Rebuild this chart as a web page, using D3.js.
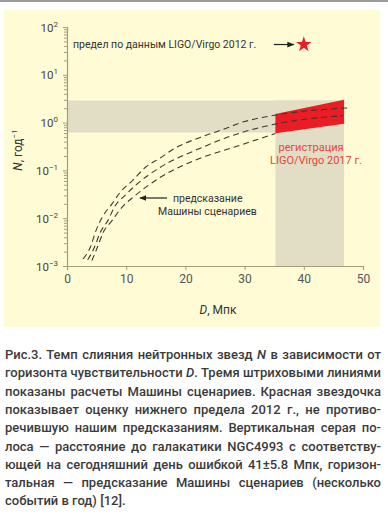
<!DOCTYPE html>
<html>
<head>
<meta charset="utf-8">
<script src="https://cdn.jsdelivr.net/npm/d3@7"></script>
<style>
  body { margin: 0; background: #fff; width: 388px; height: 522px; overflow: hidden; position: relative; }
  svg { position: absolute; left: 0; top: 0; }
  .cap { position: absolute; left: 5px; width: 376px; font-family: Roboto, sans-serif; font-size: 13px; font-weight: 500;
         color: #3b3b3b; text-align: justify; text-align-last: justify; white-space: nowrap; line-height: 18px; }
  .cap.last { text-align-last: left; }
</style>
</head>
<body>
<script>
// data
var xTicks = [0, 10, 20, 30, 40, 50];
var yTicks = [1e-3, 1e-2, 1e-1, 1, 10, 100];
var yExp = ['-3', '-2', '-1', '0', '1', '2'];
// three dashed model curves [D, N]
var curveUpper = [[2.7,0.0014],[3.9,0.0024],[4.9,0.0055],[5.9,0.0102],[7.6,0.020],[9.0,0.035],[11.1,0.062],[13.2,0.115],[15.7,0.18],[18.2,0.29],[22.5,0.49],[25.8,0.68],[30,1.05],[34.8,1.41],[47.8,2.04]];
var curveMiddle = [[3.5,0.00135],[4.6,0.0024],[5.6,0.005],[6.9,0.0089],[8.1,0.018],[9.8,0.030],[11.5,0.048],[15.7,0.115],[22.5,0.29],[28,0.54],[34.8,0.91],[46.6,1.4]];
var curveLower = [[4.2,0.0013],[5.1,0.0024],[6.1,0.005],[7.6,0.0089],[9.3,0.017],[11.1,0.027],[15.7,0.071],[22.5,0.18],[28,0.3],[35.2,0.59]];
// grey bands
var hBand = [0.62, 2.9];      // N range
var vBand = [35.2, 46.8];     // D range (41 +- 5.8)
// red LIGO/Virgo 2017 area
var regD = [35.2, 46.8];
var regTop = [1.52, 3.0];
var regBottom = [0.6, 0.95];
var star = [40, 43];

var captionLines = [
  ['Рис.3. Темп слияния нейтронных звезд ', 'N', ' в зависимости от'],
  ['горизонта чувствительности ', 'D', '. Тремя штриховыми линиями'],
  ['показаны расчеты Машины сценариев. Красная звездочка'],
  ['показывает оценку нижнего предела 2012 г., не противо-'],
  ['речившую нашим предсказаниям. Вертикальная серая по-'],
  ['лоса — расстояние до галакатики NGC4993 с соответству-'],
  ['ющей на сегодняшний день ошибкой 41±5.8 Мпк, горизон-'],
  ['тальная — предсказание Машины сценариев (несколько'],
  ['событий в год) [12].']
];

var W = 388, H = 522;
var axisColor = '#a39e78', bandColor = '#e2dec6', red = '#ea1c24';

var svg = d3.select('body').append('svg').attr('width', W).attr('height', H);

// page frame
svg.append('rect').attr('x', 0).attr('y', 0).attr('width', W).attr('height', 2).attr('fill', '#9a9a9a');
svg.append('rect').attr('x', 4).attr('y', 10).attr('width', 376).attr('height', 317).attr('fill', '#fffbd4');

var x = d3.scaleLinear().domain([0, 50]).range([67, 363]);
var y = d3.scaleLog().domain([1e-3, 1e2]).range([266, 27]);

// bands
svg.append('rect')
  .attr('x', x(0) + 1).attr('width', x(vBand[1]) - x(0) - 1)
  .attr('y', y(hBand[1])).attr('height', y(hBand[0]) - y(hBand[1]))
  .attr('fill', bandColor);
svg.append('rect')
  .attr('x', x(vBand[0])).attr('width', x(vBand[1]) - x(vBand[0]))
  .attr('y', y(hBand[1])).attr('height', y(1e-3) - y(hBand[1]))
  .attr('fill', bandColor);

// red registration area
var regPoly = [[regD[0], regTop[0]], [regD[1], regTop[1]], [regD[1], regBottom[1]], [regD[0], regBottom[0]]];
svg.append('polygon')
  .attr('points', regPoly.map(function(p) { return x(p[0]) + ',' + y(p[1]); }).join(' '))
  .attr('fill', red);

// dashed curves
var line = d3.line().x(function(d) { return x(d[0]); }).y(function(d) { return y(d[1]); }).curve(d3.curveMonotoneX);
[curveUpper, curveMiddle, curveLower].forEach(function(c) {
  svg.append('path').attr('d', line(c))
    .attr('fill', 'none').attr('stroke', '#3a3a32').attr('stroke-width', 1.1)
    .attr('stroke-dasharray', '6,4');
});

// axes
var xAxis = svg.append('g').attr('transform', 'translate(0,' + y(1e-3) + ')')
  .call(d3.axisBottom(x).tickValues(xTicks).tickSize(4).tickPadding(4).tickFormat(d3.format('d')));
var minor = [];
yTicks.slice(0, -1).forEach(function(t) { for (var k = 2; k < 10; k++) minor.push(t * k); });
var yMinor = svg.append('g').attr('transform', 'translate(' + x(0) + ',0)')
  .call(d3.axisLeft(y).tickValues(minor).tickSize(3).tickFormat(''));
var yAxis = svg.append('g').attr('transform', 'translate(' + x(0) + ',0)')
  .call(d3.axisLeft(y).tickValues(yTicks).tickSize(4).tickPadding(4).tickFormat(''));

[xAxis, yAxis, yMinor].forEach(function(g) {
  g.select('.domain').attr('stroke', axisColor).attr('stroke-width', 1.2);
  g.selectAll('.tick line').attr('stroke', axisColor);
});
xAxis.selectAll('.tick text').attr('fill', '#555').attr('font-family', 'Roboto, sans-serif').attr('font-size', 12);
yMinor.select('.domain').remove();

// y tick labels with superscripts
yAxis.selectAll('.tick').each(function(d, i) {
  var t = d3.select(this).append('text').attr('x', -9).attr('dy', '0.35em')
    .attr('text-anchor', 'end').attr('fill', '#444')
    .attr('font-family', 'Roboto, sans-serif').attr('font-size', 11.5);
  t.append('tspan').text('10');
  t.append('tspan').attr('dy', -5).attr('font-size', 8).text(yExp[i].replace('-', '\u2212'));
});

var font = 'Roboto, sans-serif';
// axis titles
var yl = svg.append('text').attr('transform', 'translate(22,150) rotate(-90)')
  .attr('text-anchor', 'middle').attr('font-family', font).attr('font-size', 12).attr('fill', '#333');
yl.append('tspan').attr('font-style', 'italic').text('N');
yl.append('tspan').text(', год');
yl.append('tspan').attr('dy', -5).attr('font-size', 8).text('\u22121');

var xl = svg.append('text').attr('x', 218).attr('y', 314)
  .attr('text-anchor', 'middle').attr('font-family', font).attr('font-size', 12).attr('fill', '#333');
xl.append('tspan').attr('font-style', 'italic').text('D');
xl.append('tspan').text(', Мпк');

// arrow marker
svg.append('defs').append('marker').attr('id', 'ah')
  .attr('viewBox', '0 0 10 10').attr('refX', 9).attr('refY', 5)
  .attr('markerWidth', 6).attr('markerHeight', 6).attr('orient', 'auto')
  .append('path').attr('d', 'M0,1 L10,5 L0,9 Z').attr('fill', '#222');

// 2012 limit annotation
svg.append('text').attr('x', 73).attr('y', 48)
  .attr('font-family', font).attr('font-size', 10.5).attr('fill', '#333')
  .text('предел по данным LIGO/Virgo 2012 г.');
svg.append('line').attr('x1', x(star[0]) - 30).attr('x2', x(star[0]) - 10)
  .attr('y1', y(star[1])).attr('y2', y(star[1]))
  .attr('stroke', '#222').attr('stroke-width', 1.2).attr('marker-end', 'url(#ah)');
svg.append('path')
  .attr('d', d3.symbol().type(d3.symbolStar).size(75)())
  .attr('transform', 'translate(' + x(star[0]) + ',' + y(star[1]) + ')')
  .attr('fill', red);

// model annotation
svg.append('line').attr('x1', 167).attr('x2', 140).attr('y1', 198).attr('y2', 198)
  .attr('stroke', '#222').attr('stroke-width', 1.2).attr('marker-end', 'url(#ah)');
var mt = svg.append('text').attr('font-family', font).attr('font-size', 10.5).attr('fill', '#333');
mt.append('tspan').attr('x', 173).attr('y', 202).text('предсказание');
mt.append('tspan').attr('x', 158).attr('y', 215).text('Машины сценариев');

// 2017 registration label
var rt = svg.append('text').attr('font-family', font).attr('font-size', 11).attr('fill', '#e2463b').attr('text-anchor', 'middle');
rt.append('tspan').attr('x', 311).attr('y', 151).text('регистрация');
rt.append('tspan').attr('x', 316).attr('y', 164).text('LIGO/Virgo 2017 г.');

// caption
captionLines.forEach(function(parts, i) {
  var div = d3.select('body').append('div').attr('class', 'cap' + (i === captionLines.length - 1 ? ' last' : ''))
    .style('top', (346 + i * 18.3) + 'px');
  parts.forEach(function(p, j) {
    if (j === 1) div.append('i').text(p);
    else div.append('span').text(p);
  });
});
</script>
</body>
</html>
